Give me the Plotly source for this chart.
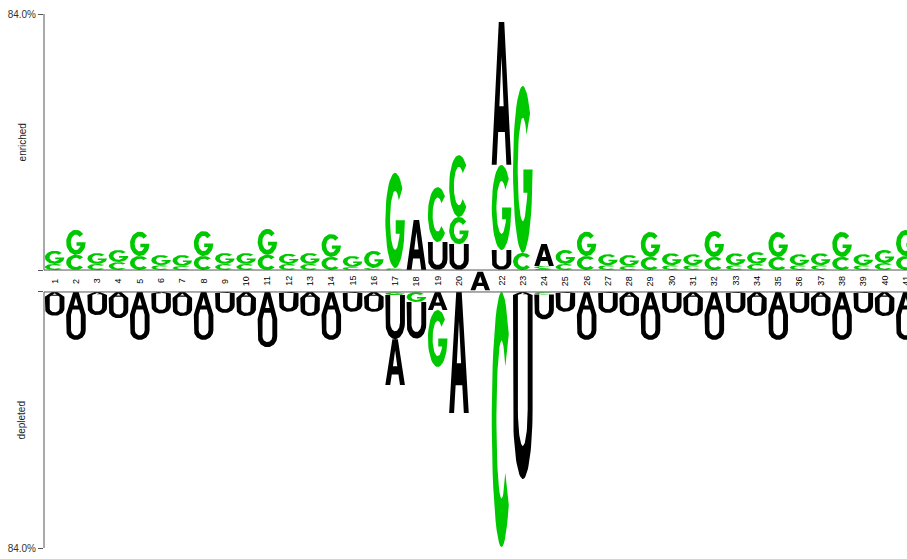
import numpy as np
import plotly.graph_objects as go

# ---------------- data (percent) ----------------
positions = list(range(1, 42))
fixed_pos = 21            # conserved position shown in the middle band
fixed_letter = "A"

enr_A = [0]*17 + [16.4, 0, 0, 0, 46.9, 0, 7.2] + [0]*17
enr_C = [2.0, 5.0, 2.0, 2.6, 4.6, 1.6, 1.3, 4.6, 2.0, 2.0, 5.0, 2.0, 2.0, 4.3, 1.0, 0.8,
         0.7, 0, 18.0, 20.3, 0, 0, 5.6, 0.8,
         2.0, 4.6, 1.6, 1.3, 4.3, 1.6, 1.6, 4.3, 1.6, 2.0, 4.3, 1.6, 1.6, 4.3, 1.6, 2.3, 4.6]
enr_G = [4.3, 8.2, 3.6, 4.0, 8.0, 3.3, 3.6, 8.2, 3.6, 3.6, 8.5, 3.3, 3.6, 7.5, 3.6, 5.5,
         31.2, 0, 0, 8.9, 0, 27.9, 54.8, 0.5,
         4.6, 8.0, 3.6, 3.6, 8.2, 3.9, 3.6, 8.5, 3.9, 3.9, 8.2, 3.6, 3.9, 8.2, 3.6, 4.3, 8.5]
enr_U = [0]*18 + [9.2, 8.5, 0, 6.6] + [0]*19

dep_A = [1.6, 7.5, 1.0, 2.0, 7.5, 0.5, 2.0, 7.5, 0.3, 2.0, 8.9, 0.3, 2.0, 7.5, 0.3, 1.6,
         15.0, 0, 5.9, 39.7, 0, 0, 1.0, 0,
         0.3, 7.5, 0.3, 2.0, 7.5, 0.3, 2.0, 7.5, 0.3, 2.0, 7.5, 0.3, 2.0, 7.5, 0.3, 2.0, 7.5]
dep_U = [6.2, 8.2, 6.6, 6.6, 8.2, 6.6, 5.9, 8.2, 6.6, 5.9, 9.2, 6.2, 5.9, 8.2, 6.2, 4.9,
         14.5, 12.0, 0, 0, 0, 0, 60.4, 8.2,
         6.2, 8.2, 6.6, 5.9, 8.2, 6.6, 5.9, 8.2, 6.6, 5.9, 8.2, 6.6, 5.9, 8.2, 6.6, 5.9, 8.2]
dep_G = [0]*16 + [1.0, 3.3, 18.7] + [0]*22
dep_C = [0]*21 + [83.7, 0, 0.8] + [0]*17

y_max = 84.0
tick_text = "84.0%"

# ---------------- style ----------------
GREEN = "#00c800"
BLACK = "#000000"
COLORS = {"A": BLACK, "U": BLACK, "G": GREEN, "C": GREEN}
BAND = 7.2          # height of middle label band, in axis units
LETTER_W = 0.92


def arc(cx, cy, rx, ry, a0, a1, n=40):
    t = np.radians(np.linspace(a0, a1, n))
    return [(cx + rx * np.cos(v), cy + ry * np.sin(v)) for v in t]


def glyph(letter):
    if letter == "A":
        return [(0, 0), (0.36, 1), (0.64, 1), (1, 0), (0.75, 0), (0.67, 0.23),
                (0.5, 0.23), (0.5, 0.41), (0.61, 0.41), (0.5, 0.76), (0.39, 0.41),
                (0.5, 0.41), (0.5, 0.23), (0.33, 0.23), (0.25, 0)]
    if letter == "U":
        pts = [(0, 1), (0, 0.38)]
        pts += arc(0.5, 0.38, 0.5, 0.38, 180, 360)
        pts += [(1, 1), (0.75, 1), (0.75, 0.38)]
        pts += arc(0.5, 0.38, 0.25, 0.2, 360, 180)
        pts += [(0.25, 1)]
        return pts
    if letter == "C":
        pts = arc(0.5, 0.5, 0.5, 0.5, 42, 318)
        pts += arc(0.5, 0.5, 0.26, 0.31, 318, 42)
        return pts
    if letter == "G":
        pts = arc(0.5, 0.5, 0.5, 0.5, 42, 360)
        pts += [(1, 0.5), (0.53, 0.5), (0.53, 0.36), (0.72, 0.36)]
        pts += arc(0.5, 0.5, 0.26, 0.31, 333, 42)
        return pts
    return []


GLYPHS = {k: glyph(k) for k in "ACGU"}

paths = {GREEN: ([], []), BLACK: ([], [])}


def add_letter(letter, xc, y0, h):
    xs, ys = paths[COLORS[letter]]
    for gx, gy in GLYPHS[letter]:
        xs.append(xc + (gx - 0.5) * LETTER_W)
        ys.append(y0 + gy * h)
    xs.append(None)
    ys.append(None)


enr = {"A": enr_A, "C": enr_C, "G": enr_G, "U": enr_U}
dep = {"A": dep_A, "C": dep_C, "G": dep_G, "U": dep_U}

for i, p in enumerate(positions):
    # enriched: smallest at bottom, largest on top
    stack = sorted([(enr[k][i], k) for k in "ACGU" if enr[k][i] > 0])
    y = 0.0
    for h, k in stack:
        add_letter(k, p, y, h)
        y += h
    # depleted: smallest next to band, largest at the far end
    stack = sorted([(dep[k][i], k) for k in "ACGU" if dep[k][i] > 0])
    y = -BAND
    for h, k in stack:
        add_letter(k, p, y - h, h)
        y -= h

# conserved letter in the band
add_letter(fixed_letter, fixed_pos, -BAND + 0.6, BAND - 1.2)

fig = go.Figure()
for col, (xs, ys) in paths.items():
    fig.add_trace(go.Scatter(x=xs, y=ys, mode="lines", fill="toself",
                             fillcolor=col, line=dict(width=0, color=col),
                             hoverinfo="skip", showlegend=False))

FONT = "Liberation Sans, Arial, sans-serif"
annotations = []
for p in positions:
    if p == fixed_pos:
        continue
    annotations.append(dict(x=p, y=-BAND / 2, xref="x", yref="y", text=str(p),
                            showarrow=False, textangle=-90,
                            font=dict(size=9, color="#000", family=FONT)))
annotations.append(dict(x=-0.025, y=y_max / 2, xref="paper", yref="y", text="enriched",
                        showarrow=False, textangle=-90, xanchor="center",
                        font=dict(size=10, color="#222", family=FONT)))
annotations.append(dict(x=-0.025, y=-BAND - y_max * 0.5, xref="paper", yref="y",
                        text="depleted", showarrow=False, textangle=-90, xanchor="center",
                        font=dict(size=10, color="#222", family=FONT)))

AX = "#555555"
shapes = [
    dict(type="line", xref="paper", yref="y", x0=0, x1=0, y0=0, y1=y_max,
         line=dict(color=AX, width=1)),
    dict(type="line", xref="paper", yref="y", x0=0, x1=0, y0=-BAND, y1=-BAND - y_max,
         line=dict(color=AX, width=1)),
    dict(type="line", xref="paper", yref="y", x0=0, x1=1, y0=0, y1=0,
         line=dict(color=AX, width=1)),
    dict(type="line", xref="paper", yref="y", x0=0, x1=1, y0=-BAND, y1=-BAND,
         line=dict(color=AX, width=1)),
]

fig.update_layout(
    width=907, height=559,
    margin=dict(l=44, r=0, t=14, b=11, autoexpand=False),
    paper_bgcolor="white", plot_bgcolor="white",
    annotations=annotations, shapes=shapes,
    xaxis=dict(range=[0.5, 0.5 + 863 / 21.28], showgrid=False, zeroline=False,
               showticklabels=False, ticks="", showline=False, automargin=False),
    yaxis=dict(range=[-BAND - y_max, y_max], showgrid=False, zeroline=False,
               showline=False, ticks="outside", ticklen=5, tickcolor=AX,
               automargin=False,
               tickvals=[y_max, 0, -BAND, -BAND - y_max],
               ticktext=[tick_text, "", "", tick_text],
               tickfont=dict(size=10, color="#333", family=FONT)),
)

fig.write_html("out.html", config={"displayModeBar": False},
               post_script="document.body.style.margin='0';document.body.style.overflow='hidden';")
